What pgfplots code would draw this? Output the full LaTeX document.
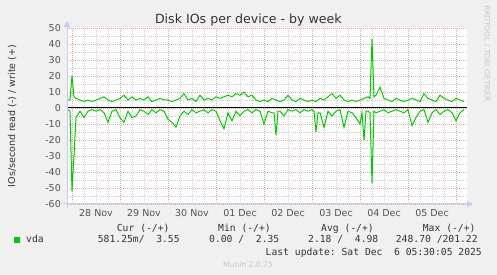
\documentclass[border=0pt]{standalone}
\usepackage{fontspec}
\setmainfont{DejaVu Sans}
\setmonofont{DejaVu Sans Mono}
\usepackage{pgfplots}
\pgfplotsset{compat=1.18}
\usepackage{pgfplotstable}
\usetikzlibrary{arrows.meta}
\definecolor{back}{HTML}{F0F0F0}
\definecolor{mgrid}{HTML}{E3A6A6}
\definecolor{ngrid}{HTML}{CFCFCF}
\definecolor{axiscol}{HTML}{C8C8F4}
\definecolor{vda}{HTML}{00CC00}
\definecolor{txt}{HTML}{333333}
\definecolor{tick}{HTML}{555555}
\definecolor{faint}{HTML}{C8C8C8}

% write (+), hours since 28 Nov 00:00
\pgfplotstableread{
h v
-2 5
-1 5
0 20
1 7
2 6
4 5
6 4
8 5
10 4
12 5
14 6
16 7
18 5
20 4
22 5
24 6
26 8
28 5
30 7
32 5
34 6
36 5
38 7
40 4
42 5
44 6
46 5
48 5
50 4
52 5
54 6
56 9
58 5
60 6
62 4
64 8
66 5
68 6
70 5
72 7
74 6
76 7
78 8
80 7
82 9
84 8
86 10
88 7
90 8
92 5
94 4
96 5
98 4
100 6
102 5
104 4
106 5
108 8
110 5
112 4
114 6
116 5
118 4
120 5
122 4
124 6
126 5
128 7
130 9
132 6
134 8
136 5
138 4
140 5
142 4
144 5
146 6
148 7
149 6
150 43
151 7
152 8
154 13
156 6
158 5
160 4
162 6
164 5
166 4
168 5
170 6
172 5
174 4
176 9
178 6
180 5
182 4
184 8
186 6
188 5
190 4
192 6
194 5
196 4
}\writetab

% read (-)
\pgfplotstableread{
h v
-2 -1
-1 -2
0 -52
1 -30
2 -6
4 -2
6 -6
8 -2
10 -1
12 -2
14 -1
16 -3
18 -9
20 -2
22 -1
24 -6
26 -9
28 -2
30 -6
32 -5
34 -1
36 -2
38 -4
40 -1
42 -3
44 -1
46 -2
48 -7
50 -9
52 -12
54 -5
56 -2
58 -4
60 -1
62 -3
64 -2
66 -1
68 -3
70 -1
72 -2
74 -8
76 -13
78 -3
80 -8
82 -2
84 -5
86 -2
88 -1
90 -3
92 -1
94 -2
96 -10
98 -2
100 -3
101 -3
102 -17
103 -2
104 -2
106 -5
108 -1
110 -2
112 -1
114 -3
116 -1
118 -2
120 -1
121 -2
122 -15
123 -3
124 -3
126 -12
128 -2
130 -5
132 -2
134 -1
136 -12
138 -2
140 -3
142 -6
144 -10
145 -3
146 -20
147 -2
148 -2
149 -3
150 -47
151 -2
152 -3
154 -2
156 -1
158 -3
160 -2
162 -1
164 -2
166 -3
168 -1
170 -11
172 -6
174 -2
176 -1
178 -9
180 -3
182 -1
184 -4
186 -2
188 -1
190 -3
192 -8
194 -3
196 -1
}\readtab

\begin{document}
\begin{tikzpicture}
\fill[back] (0pt,0pt) rectangle (497pt,275pt);
\begin{axis}[
  at={(67pt,71pt)}, anchor=south west,
  width=400pt, height=176pt, scale only axis,
  xmin=-2.5, xmax=197.5, ymin=-60, ymax=50,
  axis background/.style={fill=white},
  axis line style={draw=none},
  major tick length=0pt, minor tick length=0pt,
  xtick={12,36,...,180},
  xticklabels={28 Nov,29 Nov,30 Nov,01 Dec,02 Dec,03 Dec,04 Dec,05 Dec},
  minor xtick={6,12,18,30,36,42,54,60,66,78,84,90,102,108,114,126,132,138,150,156,162,174,180,186},
  extra x ticks={0,24,...,192},
  extra x tick labels={},
  extra x tick style={grid=major},
  ytick={-60,-50,...,50},
  yticklabels={-60,-50,-40,-30,-20,-10,0,10,20,30,40,50},
  minor ytick={-55,-45,...,45},
  xmajorgrids=false, xminorgrids=true,
  ymajorgrids=true, yminorgrids=true,
  major grid style={mgrid, line width=0.8pt, dash pattern=on 1pt off 1pt},
  minor grid style={ngrid, line width=0.8pt, dash pattern=on 1pt off 1pt},
  ticklabel style={font=\fontsize{9.5}{11}\selectfont, text=tick},
  yticklabel style={inner sep=0pt, xshift=-6pt},
  xticklabel style={inner sep=0pt, yshift=-5pt},
  clip=true,
]
\addplot[vda, line width=1pt, mark=none] table[x=h,y=v] {\writetab};
\addplot[vda, line width=1pt, mark=none] table[x=h,y=v] {\readtab};
\addplot[black, line width=1pt, mark=none] coordinates {(-2.5,0) (197.5,0)};
\end{axis}
% axis lines with arrows
\draw[axiscol, line width=1pt, -{Triangle[length=6pt,width=6pt]}] (67pt,67pt) -- (67pt,254pt);
\draw[axiscol, line width=1pt, -{Triangle[length=6pt,width=6pt]}] (63pt,71pt) -- (473pt,71pt);
% title
\node[anchor=base, inner sep=0pt, text=txt, font=\fontsize{12.6}{14}\selectfont] at (248.4pt,251pt) {Disk IOs per device - by week};
% y label
\node[anchor=base, rotate=90, inner sep=0pt, text=txt, font=\fontsize{9.5}{11}\selectfont] at (15pt,159pt) {IOs/second read (-) / write (+)};
% rrdtool credit
\node[rotate=-90, inner sep=0pt, text=faint, font=\fontsize{7.5}{9}\selectfont] at (487pt,221.5pt) {RRDTOOL / TOBI OETIKER};
% legend
\begin{scope}[every node/.style={inner sep=0pt, text=txt, font=\fontsize{9.7}{11}\ttfamily}]
\node[anchor=base west] at (116.7pt,43.5pt) {Cur~(-/+)};
\node[anchor=base west] at (218pt,43.5pt) {Min~(-/+)};
\node[anchor=base west] at (321pt,43.5pt) {Avg~(-/+)};
\node[anchor=base west] at (422.7pt,43.5pt) {Max~(-/+)};
\fill[vda] (14pt,32.3pt) rectangle (20pt,38.3pt);
\node[anchor=base west] at (26pt,32pt) {vda};
\node[anchor=base west] at (97.7pt,32pt) {581.25m/~~3.55};
\node[anchor=base west] at (209pt,32pt) {0.00~/~~2.35};
\node[anchor=base west] at (308pt,32pt) {2.18~/~~4.98};
\node[anchor=base west] at (395.7pt,32pt) {248.70~/201.22};
\node[anchor=base east] at (482pt,19.7pt) {Last~update:~Sat~Dec~~6~05:30:05~2025};
\end{scope}
\node[anchor=base, inner sep=0pt, text=faint, font=\fontsize{7.6}{9}\selectfont] at (248pt,7.5pt) {Munin 2.0.75};
\end{tikzpicture}
\end{document}
